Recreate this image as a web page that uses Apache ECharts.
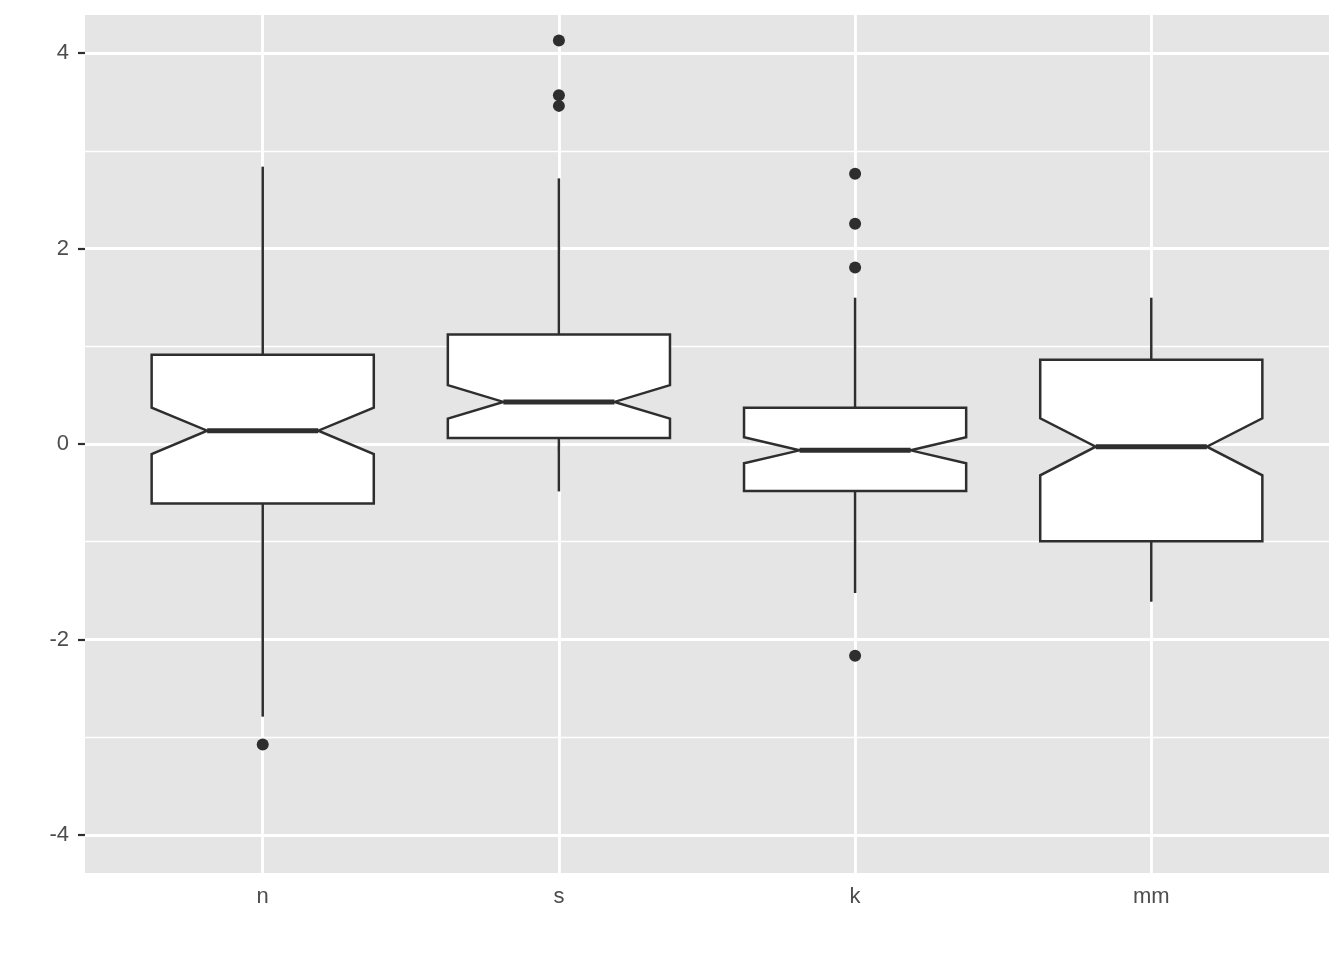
<!DOCTYPE html>
<html>
<head>
<meta charset="utf-8">
<script src="https://cdn.jsdelivr.net/npm/echarts@6/dist/echarts.min.js"></script>
<style>
html,body{margin:0;padding:0;background:#fff;}
#chart{width:1344px;height:960px;}
</style>
</head>
<body>
<div id="chart"></div>
<script>
// ---- data ----
const categories = ['n', 's', 'k', 'mm'];
const whiskerLow  = [-2.79, -0.485, -1.525, -1.614];
const q1          = [-0.608, 0.062, -0.482, -0.995];
const notchLow    = [-0.103, 0.26, -0.198, -0.321];
const median      = [0.136, 0.431, -0.065, -0.027];
const notchHigh   = [0.372, 0.602, 0.069, 0.263];
const q3          = [0.913, 1.121, 0.372, 0.862];
const whiskerHigh = [2.838, 2.718, 1.497, 1.497];
const outliersN  = [-3.074];
const outliersS  = [4.13, 3.569, 3.46];
const outliersK  = [2.765, 2.253, 1.807, -2.166];
const outliersMM = [];
const yTicks = [-4, -2, 0, 2, 4];
const yMinorLines = [-3, -1, 1, 3];

// ---- build options ----
const outlierLists = [outliersN, outliersS, outliersK, outliersMM];
const boxData = categories.map((c, i) => [i + 1, whiskerLow[i], q1[i], notchLow[i], median[i], notchHigh[i], q3[i], whiskerHigh[i]]);
const outlierData = [];
outlierLists.forEach((arr, i) => arr.forEach(v => outlierData.push([i + 1, v])));
const xPositions = categories.map((c, i) => i + 1);

const INK = '#2e2e2e';
const BOX_WIDTH = 0.75;
const NOTCH_WIDTH = 0.5;

function renderBox(params, api) {
  const x = api.value(0);
  const wl = api.coord([x, api.value(1)]);
  const pq1 = api.coord([x, api.value(2)]);
  const nl = api.coord([x, api.value(3)]);
  const md = api.coord([x, api.value(4)]);
  const nh = api.coord([x, api.value(5)]);
  const pq3 = api.coord([x, api.value(6)]);
  const wh = api.coord([x, api.value(7)]);
  const half = api.size([BOX_WIDTH, 0])[0] / 2;
  const cx = md[0];
  const xl = cx - half, xr = cx + half;
  const il = cx - half * NOTCH_WIDTH, ir = cx + half * NOTCH_WIDTH;
  const pts = [
    [xl, pq3[1]], [xr, pq3[1]], [xr, nh[1]], [ir, md[1]], [xr, nl[1]],
    [xr, pq1[1]], [xl, pq1[1]], [xl, nl[1]], [il, md[1]], [xl, nh[1]]
  ];
  const lineStyle = { stroke: INK, lineWidth: 2.5 };
  return {
    type: 'group',
    children: [
      { type: 'line', shape: { x1: cx, y1: pq3[1], x2: cx, y2: wh[1] }, style: lineStyle },
      { type: 'line', shape: { x1: cx, y1: pq1[1], x2: cx, y2: wl[1] }, style: lineStyle },
      { type: 'polygon', shape: { points: pts }, style: { fill: '#ffffff', stroke: INK, lineWidth: 2.5, lineJoin: 'miter' } },
      { type: 'line', shape: { x1: il, y1: md[1], x2: ir, y2: md[1] }, style: { stroke: INK, lineWidth: 5 } }
    ]
  };
}

const gridLineData = [];
yTicks.forEach(v => gridLineData.push({ yAxis: v, lineStyle: { width: 2.8 } }));
yMinorLines.forEach(v => gridLineData.push({ yAxis: v, lineStyle: { width: 1.3 } }));
xPositions.forEach(v => gridLineData.push({ xAxis: v, lineStyle: { width: 2.8 } }));

const FONT = '"Liberation Sans", Arial, Helvetica, sans-serif';

const option = {
  animation: false,
  backgroundColor: '#ffffff',
  grid: {
    left: 85, right: 15, top: 15, bottom: 87,
    show: true, backgroundColor: '#E5E5E5', borderWidth: 0
  },
  xAxis: {
    type: 'value',
    min: 0.4, max: 4.6,
    axisLine: { show: false },
    splitLine: { show: false },
    axisTick: { show: true, customValues: xPositions, length: 7, lineStyle: { color: INK, width: 2.2 } },
    axisLabel: {
      customValues: xPositions,
      formatter: v => categories[Math.round(v) - 1] || '',
      color: '#4D4D4D', fontSize: 22, fontFamily: FONT, margin: 13
    }
  },
  yAxis: {
    type: 'value',
    min: -4.39, max: 4.39,
    axisLine: { show: false },
    splitLine: { show: false },
    axisTick: { show: true, customValues: yTicks, length: 7, lineStyle: { color: INK, width: 2.2 } },
    axisLabel: {
      customValues: yTicks,
      formatter: v => String(v),
      color: '#4D4D4D', fontSize: 22, fontFamily: FONT, margin: 16
    }
  },
  series: [
    {
      type: 'line',
      data: [],
      z: 1,
      silent: true,
      markLine: {
        silent: true,
        symbol: ['none', 'none'],
        label: { show: false },
        lineStyle: { color: '#ffffff', type: 'solid' },
        emphasis: { disabled: true },
        data: gridLineData
      }
    },
    {
      type: 'custom',
      zlevel: 1,
      z: 3,
      renderItem: renderBox,
      data: boxData,
      encode: { x: 0, y: [1, 2, 3, 4, 5, 6, 7] }
    },
    {
      type: 'scatter',
      zlevel: 1,
      z: 4,
      data: outlierData,
      symbolSize: 12,
      itemStyle: { color: INK, opacity: 1 }
    }
  ]
};

const chart = echarts.init(document.getElementById('chart'), null, { renderer: 'canvas' });
chart.setOption(option);
</script>
</body>
</html>
